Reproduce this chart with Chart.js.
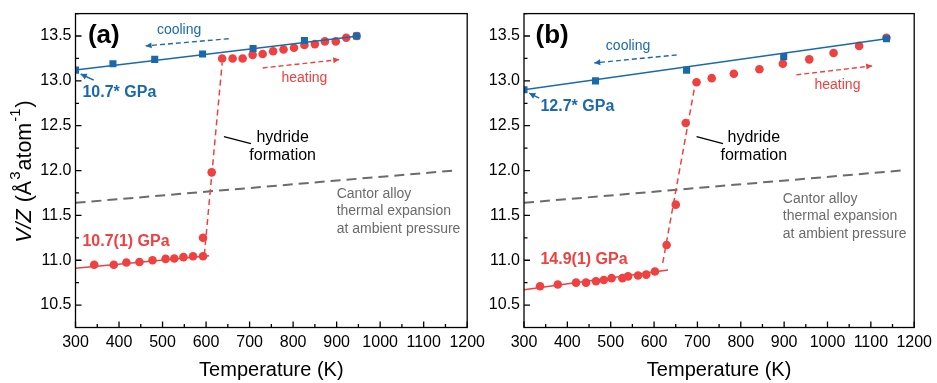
<!DOCTYPE html>
<html>
<head>
<meta charset="utf-8">
<script src="https://cdn.jsdelivr.net/npm/chart.js@4.4.1/dist/chart.umd.min.js"></script>
<style>
  body { margin: 0; background: #fff; }
  #wrap { position: relative; width: 937px; height: 383px; }
  canvas { position: absolute; top: 0; }
  #chartA { left: 0; }
  #chartB { left: 487px; }
</style>
</head>
<body>
<div id="wrap">
  <canvas id="chartA" width="490" height="383"></canvas>
  <canvas id="chartB" width="450" height="383"></canvas>
</div>
<script>
const RED = '#f0403f';
const BLUE = '#1a6aab';
const GREY = '#6b6b6b';
const FONT = "'Liberation Sans', Arial, sans-serif";

const xTicks = [300, 400, 500, 600, 700, 800, 900, 1000, 1100, 1200];
const yTicks = [10.5, 11.0, 11.5, 12.0, 12.5, 13.0, 13.5];

// Cantor alloy thermal expansion at ambient pressure (same in both panels)
const cantorT = [300, 1170];
const cantorV = [11.64, 12.00];

// (a) 10.7 GPa run
const aCoolT = [300, 386, 482, 592, 708, 826, 946];
const aCoolV = [13.12, 13.19, 13.24, 13.30, 13.36, 13.45, 13.50];
const aHeatT = [343, 388, 417, 447, 477, 507, 527, 548, 570, 593, 593, 613, 637, 661, 684, 707, 730, 754, 778, 802, 826, 850, 873, 898, 922, 946];
const aHeatV = [10.95, 10.95, 10.975, 10.98, 11.00, 11.015, 11.02, 11.035, 11.045, 11.045, 11.25, 11.98, 13.25, 13.25, 13.25, 13.29, 13.30, 13.33, 13.35, 13.37, 13.40, 13.41, 13.44, 13.44, 13.48, 13.50];
const aCoolFitT = [300, 950];
const aCoolFitV = [13.12, 13.50];
const aLowFitT = [300, 607];
const aLowFitV = [10.91, 11.05];
const aJumpT = [596, 637];
const aJumpV = [11.06, 13.20];

// (b) 14.9 GPa run
const bCoolT = [300, 465, 675, 899, 1136];
const bCoolV = [12.90, 13.00, 13.12, 13.27, 13.47];
const bHeatT = [337, 378, 420, 443, 466, 484, 502, 527, 540, 563, 582, 602, 629, 650, 673, 698, 733, 784, 843, 897, 958, 1014, 1073, 1136];
const bHeatV = [10.71, 10.73, 10.75, 10.75, 10.765, 10.78, 10.80, 10.80, 10.82, 10.83, 10.84, 10.875, 11.17, 11.62, 12.53, 12.985, 13.03, 13.08, 13.13, 13.19, 13.24, 13.31, 13.39, 13.48];
const bCoolFitT = [300, 1136];
const bCoolFitV = [12.90, 13.47];
const bLowFitT = [300, 632];
const bLowFitV = [10.67, 10.89];
const bJumpT = [620, 695];
const bJumpV = [10.97, 12.97];

const pts = (xs, ys) => xs.map((x, i) => ({ x, y: ys[i] }));

// text and arrows, placed in data units (T, V)
const notesA = {
  tag: '(a)', tagAt: [365, 13.5],
  coolAt: [538, 13.567], coolArrow: [[652, 13.47], [461, 13.39]],
  heatAt: [826, 13.031], heatArrow: [[730, 13.144], [906, 13.237]],
  pCool: '10.7* GPa', pCoolAt: [316, 12.867], pArrow: [[342, 13.008], [312, 13.077]],
  pHeat: '10.7(1) GPa', pHeatAt: [316, 11.209],
  hydAt: [776, 12.367], leader: [[641, 12.378], [703, 12.30]],
  cantorAt: [900, 11.741]
};
const notesB = {
  tag: '(b)', tagAt: [365, 13.5],
  coolAt: [540, 13.389], coolArrow: [[652, 13.289], [462, 13.20]],
  heatAt: [1023, 12.956], heatArrow: [[928, 13.067], [1103, 13.167]],
  pCool: '12.7* GPa', pCoolAt: [338, 12.711], pArrow: [[335, 12.808], [312, 12.863]],
  pHeat: '14.9(1) GPa', pHeatAt: [338, 11.006],
  hydAt: [830, 12.367], leader: [[698, 12.378], [759, 12.30]],
  cantorAt: [897, 11.686]
};

function arrowHead(ctx, x0, y0, x1, y1, len, half) {
  const a = Math.atan2(y1 - y0, x1 - x0);
  ctx.beginPath();
  ctx.moveTo(x1, y1);
  ctx.lineTo(x1 - len * Math.cos(a) + half * Math.sin(a), y1 - len * Math.sin(a) - half * Math.cos(a));
  ctx.lineTo(x1 - len * Math.cos(a) - half * Math.sin(a), y1 - len * Math.sin(a) + half * Math.cos(a));
  ctx.closePath();
  ctx.fill();
}

// box around the plot with inward major/minor ticks
const frame = {
  id: 'frame',
  afterDraw(chart) {
    const { ctx, chartArea: a, scales: { x, y } } = chart;
    ctx.save();
    ctx.strokeStyle = '#000';
    ctx.lineWidth = 1.3;
    ctx.beginPath();
    for (let v = 300; v <= 1200; v += 50) {
      const p = x.getPixelForValue(v);
      ctx.moveTo(p, a.bottom);
      ctx.lineTo(p, a.bottom - (v % 100 === 0 ? 6 : 3.5));
    }
    for (let v = 10.5; v <= 13.75; v += 0.25) {
      const p = y.getPixelForValue(v);
      ctx.moveTo(a.left, p);
      ctx.lineTo(a.left + (Math.abs(v * 2 - Math.round(v * 2)) < 1e-6 ? 6 : 3.5), p);
    }
    ctx.stroke();
    ctx.strokeRect(a.left, a.top, a.right - a.left, a.bottom - a.top);
    ctx.restore();
  }
};

const notes = {
  id: 'notes',
  afterDatasetsDraw(chart, args, n) {
    const { ctx, scales: { x, y } } = chart;
    const P = (p) => [x.getPixelForValue(p[0]), y.getPixelForValue(p[1])];
    ctx.save();
    ctx.textBaseline = 'middle';

    let [tx, ty] = P(n.tagAt);
    ctx.font = `bold 26px ${FONT}`;
    ctx.fillStyle = '#000';
    ctx.textAlign = 'center';
    ctx.fillText(n.tag, tx, ty);

    ctx.font = `14px ${FONT}`;
    ctx.fillStyle = BLUE;
    [tx, ty] = P(n.coolAt);
    ctx.fillText('cooling', tx, ty);
    ctx.fillStyle = RED;
    [tx, ty] = P(n.heatAt);
    ctx.fillText('heating', tx, ty);

    // dashed cooling / heating arrows
    const dashed = (seg, color) => {
      const [a0, a1] = seg.map(P);
      ctx.strokeStyle = color;
      ctx.fillStyle = color;
      ctx.lineWidth = 1.4;
      ctx.setLineDash([5, 3]);
      ctx.beginPath();
      ctx.moveTo(a0[0], a0[1]);
      ctx.lineTo(a1[0], a1[1]);
      ctx.stroke();
      ctx.setLineDash([]);
      arrowHead(ctx, a0[0], a0[1], a1[0], a1[1], 6, 3);
    };
    dashed(n.coolArrow, BLUE);
    dashed(n.heatArrow, RED);

    // pressure labels
    ctx.textAlign = 'left';
    ctx.font = `bold 16px ${FONT}`;
    ctx.fillStyle = BLUE;
    [tx, ty] = P(n.pCoolAt);
    ctx.fillText(n.pCool, tx, ty);
    const [p0, p1] = n.pArrow.map(P);
    ctx.strokeStyle = BLUE;
    ctx.lineWidth = 1.5;
    ctx.beginPath();
    ctx.moveTo(p0[0], p0[1]);
    ctx.lineTo(p1[0], p1[1]);
    ctx.stroke();
    arrowHead(ctx, p0[0], p0[1], p1[0], p1[1], 6, 3.2);
    ctx.fillStyle = RED;
    [tx, ty] = P(n.pHeatAt);
    ctx.fillText(n.pHeat, tx, ty);

    // hydride formation label with leader
    ctx.fillStyle = '#000';
    ctx.font = `16px ${FONT}`;
    ctx.textAlign = 'center';
    [tx, ty] = P(n.hydAt);
    ctx.fillText('hydride', tx, ty);
    ctx.fillText('formation', tx, ty + 18);
    const [l0, l1] = n.leader.map(P);
    ctx.strokeStyle = '#000';
    ctx.lineWidth = 1.3;
    ctx.beginPath();
    ctx.moveTo(l0[0], l0[1]);
    ctx.lineTo(l1[0], l1[1]);
    ctx.stroke();

    ctx.fillStyle = GREY;
    ctx.font = `14px ${FONT}`;
    ctx.textAlign = 'left';
    [tx, ty] = P(n.cantorAt);
    ['Cantor alloy', 'thermal expansion', 'at ambient pressure'].forEach((s, i) => {
      ctx.fillText(s, tx, ty + i * 17.5);
    });
    ctx.restore();
  }
};

// rotated y title with italic V/Z and superscripts
const yTitle = {
  id: 'yTitle',
  afterDraw(chart) {
    const { ctx } = chart;
    const parts = [
      { t: 'V/Z', f: `italic 21.5px ${FONT}`, dy: 0 },
      { t: ' (Å', f: `21.5px ${FONT}`, dy: 0 },
      { t: '3', f: `15px ${FONT}`, dy: -9 },
      { t: 'atom', f: `21.5px ${FONT}`, dy: 0 },
      { t: '-1', f: `15px ${FONT}`, dy: -9 },
      { t: ')', f: `21.5px ${FONT}`, dy: 0 }
    ];
    ctx.save();
    let w = 0;
    parts.forEach(p => { ctx.font = p.f; p.w = ctx.measureText(p.t).width + 1; w += p.w; });
    ctx.translate(25, 171);
    ctx.rotate(-Math.PI / 2);
    ctx.fillStyle = '#000';
    ctx.textBaseline = 'middle';
    ctx.textAlign = 'left';
    let cx = -w / 2;
    parts.forEach(p => { ctx.font = p.f; ctx.fillText(p.t, cx, p.dy); cx += p.w; });
    ctx.restore();
  }
};

function makePanel(id, d, n, yWidth, padRight, withTitle) {
  const line = (xs, ys, color, dash, width, order) => ({
    data: pts(xs, ys), showLine: true, pointRadius: 0, borderColor: color,
    borderWidth: width, borderDash: dash, order, clip: 0
  });
  return new Chart(document.getElementById(id), {
    type: 'scatter',
    data: {
      datasets: [
        { data: pts(d.coolT, d.coolV), pointStyle: 'rect', pointRadius: 5, backgroundColor: BLUE, borderColor: BLUE, borderWidth: 0, order: 0, clip: 0 },
        line(d.coolFitT, d.coolFitV, BLUE, [], 1.5, 1),
        { data: pts(d.heatT, d.heatV), pointStyle: 'circle', pointRadius: 4.3, backgroundColor: RED, borderColor: RED, borderWidth: 0, order: 2, clip: 0 },
        line(d.lowFitT, d.lowFitV, RED, [], 1.5, 3),
        line(d.jumpT, d.jumpV, RED, [6, 4], 1.5, 3),
        line(cantorT, cantorV, GREY, [10, 6], 2, 4)
      ]
    },
    options: {
      responsive: false,
      animation: false,
      layout: { padding: { top: 13, right: padRight, left: 0, bottom: 0 } },
      plugins: { legend: { display: false }, tooltip: { enabled: false }, notes: n },
      scales: {
        x: {
          type: 'linear', min: 300, max: 1200,
          afterBuildTicks: s => { s.ticks = xTicks.map(v => ({ value: v })); },
          afterFit: s => { s.height = 55.5; },
          grid: { display: false, drawTicks: false },
          border: { display: false },
          ticks: { color: '#000', font: { size: 16 }, padding: 5, maxRotation: 0, autoSkip: false, callback: v => String(v) },
          title: { display: true, text: 'Temperature (K)', color: '#000', font: { size: 20 }, padding: { top: 0, bottom: 1 } }
        },
        y: {
          type: 'linear', min: 10.25, max: 13.75,
          afterBuildTicks: s => { s.ticks = yTicks.map(v => ({ value: v })); },
          afterFit: s => { s.width = yWidth; },
          grid: { display: false, drawTicks: false },
          border: { display: false },
          ticks: { color: '#000', font: { size: 16 }, padding: 4, callback: v => v.toFixed(1) }
        }
      }
    },
    plugins: withTitle ? [frame, notes, yTitle] : [frame, notes]
  });
}

Chart.defaults.font.family = FONT;

makePanel('chartA', {
  coolT: aCoolT, coolV: aCoolV, heatT: aHeatT, heatV: aHeatV,
  coolFitT: aCoolFitT, coolFitV: aCoolFitV, lowFitT: aLowFitT, lowFitV: aLowFitV,
  jumpT: aJumpT, jumpV: aJumpV
}, notesA, 75.5, 20, true);

makePanel('chartB', {
  coolT: bCoolT, coolV: bCoolV, heatT: bHeatT, heatV: bHeatV,
  coolFitT: bCoolFitT, coolFitV: bCoolFitV, lowFitT: bLowFitT, lowFitV: bLowFitV,
  jumpT: bJumpT, jumpV: bJumpV
}, notesB, 37, 19, false);
</script>
</body>
</html>
